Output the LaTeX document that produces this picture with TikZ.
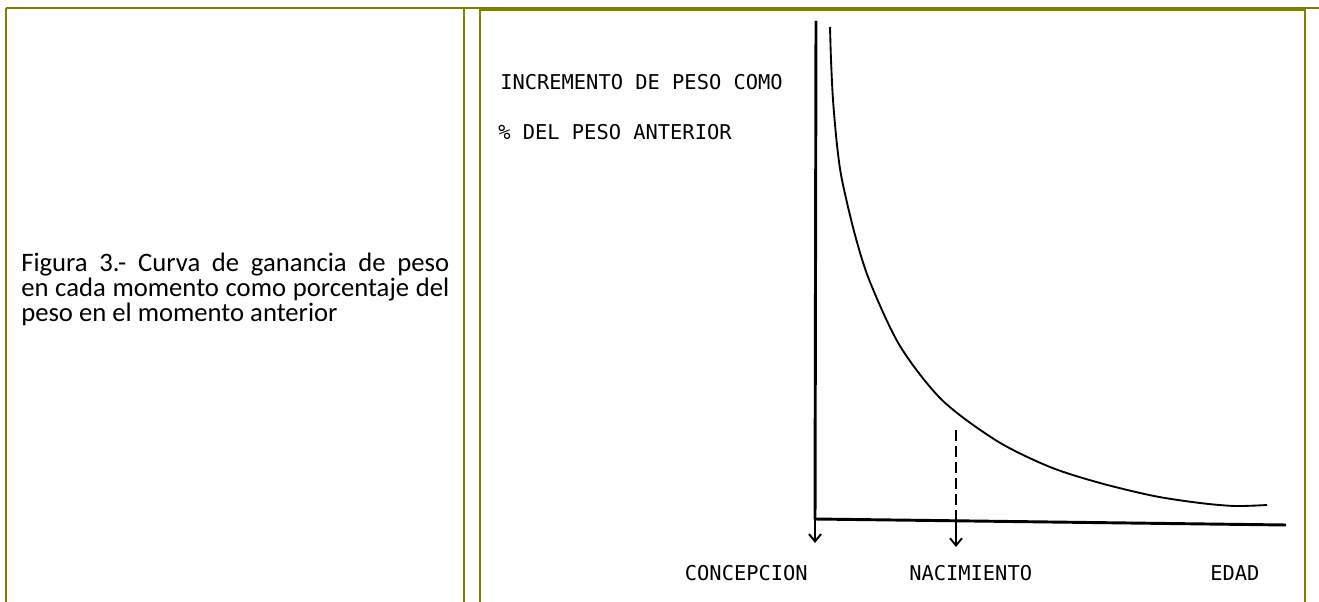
\documentclass[tikz,border=0pt]{standalone}
\usepackage{fontspec}
\setmainfont{Carlito}
\newfontfamily\plotfont{DejaVu Sans Mono}
\usepackage{tikz}
\usetikzlibrary{positioning,arrows.meta}
\definecolor{tabolive}{HTML}{808000}

\begin{document}
\begin{tikzpicture}[x=0.75pt,y=-0.75pt,
			tabline/.style={draw=tabolive, line width=1.5pt},
			axisline/.style={draw=black, line width=2.2pt},
			curveline/.style={draw=black, line width=1.4pt},
			plotlabel/.style={font=\plotfont\fontsize{15.3}{18}\selectfont, inner sep=0pt},
			>={Straight Barb[length=5.5pt,width=9pt]},
			]
			\useasboundingbox (0,0) rectangle (1319,602);
			
			%Table
			\draw[tabline] (6,8) -- (1319,8);
			\draw[tabline, line width=3pt] (480,9) -- (1305,9);
			\draw[tabline] (6,8) -- (6,602);
			\draw[tabline] (464,8) -- (464,602);
			\draw[tabline] (480,8) -- (480,602);
			\draw[tabline] (1305,9) -- (1305,602);
			
			%Nodes
			\node[anchor=base west, inner sep=0pt, text width=321pt, align=justify,
				font=\fontsize{20}{19.1}\selectfont] (caption) at (21,271)
				{Figura 3.- Curva de ganancia de peso\linebreak en cada momento como porcentaje del\linebreak peso en el momento anterior};
			\node[plotlabel, anchor=west] (ylabel1) at (500,82) {INCREMENTO DE PESO COMO};
			\node[plotlabel, anchor=west] (ylabel2) at (498,132) {\% DEL PESO ANTERIOR};
			\node[plotlabel, anchor=east] (conc) at (808,573) {CONCEPCION};
			\node[plotlabel, anchor=west] (nac) at (909,573) {NACIMIENTO};
			\node[plotlabel, anchor=west] (edad) at (1210,573) {EDAD};
			
			\coordinate (ytop) at (816,21);
			\coordinate (origin) at (815,519);
			\coordinate (conctip) at (815,543);
			\coordinate (xend) at (1286,525);
			\coordinate (nactop) at (956,430);
			\coordinate (nacaxis) at (956,521);
			\coordinate (nactip) at (956,547);
			
			%Lines
			\draw[axisline] (ytop) -- (origin);
			\draw[axisline] (origin) -- (xend);
			\draw[line width=1.5pt, ->] (origin) -- (conctip);
			\draw[line width=1.4pt, dash pattern=on 8pt off 4pt] (nactop) -- (nacaxis);
			\draw[line width=1.4pt, ->] (nacaxis) -- (nactip);
			\draw[curveline] plot[smooth, tension=0.5] coordinates {(830,27) (831,60) (833,100) (837,145) (842,180) (855,235) (870,282) (900,346) (942,400) (997,441) (1050,467) (1100,483) (1154,496) (1200,503) (1235,506) (1267,505)};
		\end{tikzpicture}
\end{document}
